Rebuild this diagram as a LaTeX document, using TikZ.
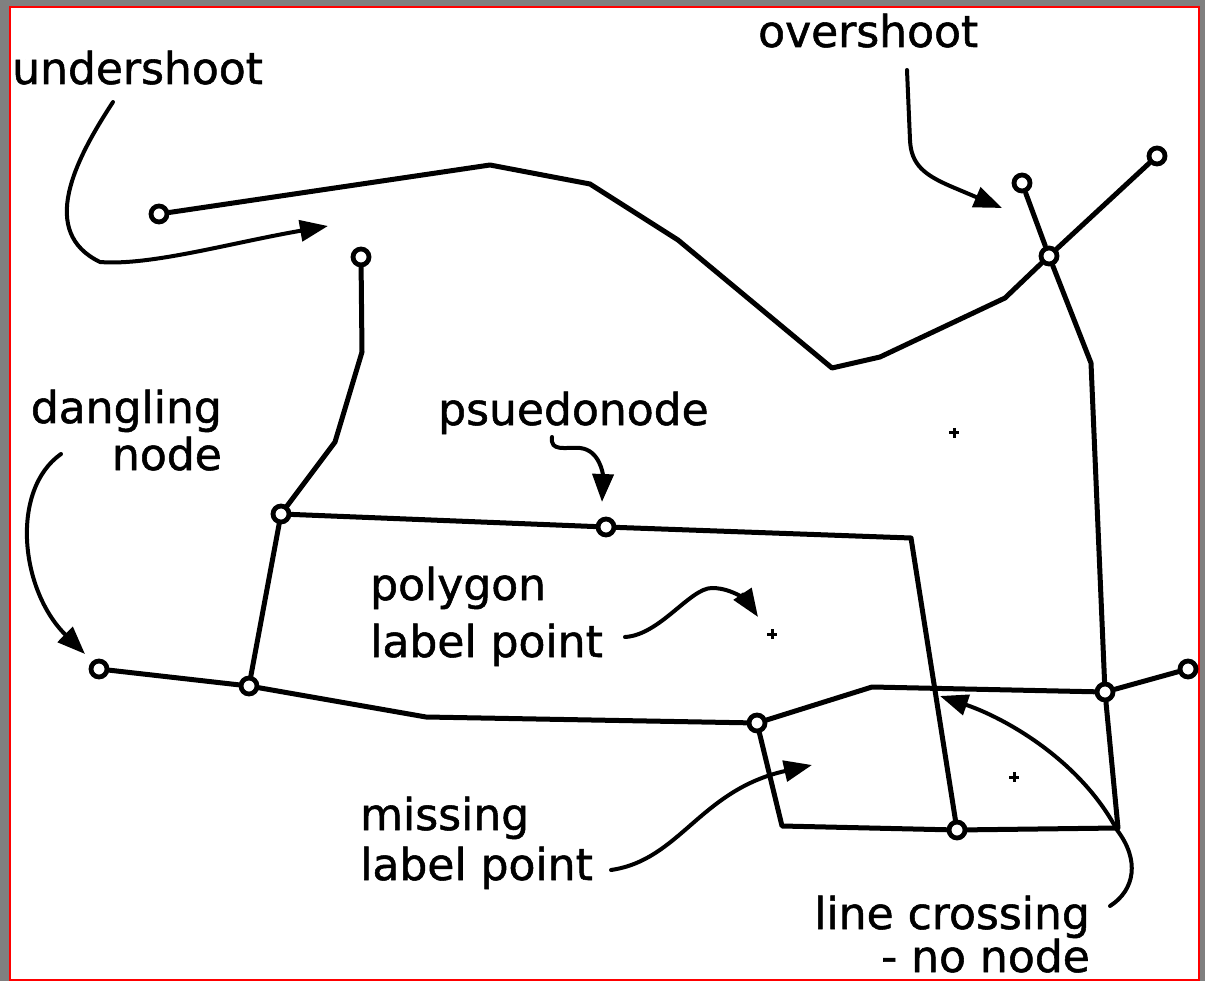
\documentclass[tikz,border=0pt]{standalone}
\usepackage{fontspec}
\setmainfont[FakeBold=1.2]{DejaVu Sans}
\usetikzlibrary{arrows.meta}
\definecolor{framegray}{RGB}{128,128,128}
\tikzset{
  vtx/.style={circle, draw, fill=white, line width=4.8pt, minimum size=16pt, inner sep=0pt},
  edge/.style={line width=5pt, line join=round, line cap=round},
  callout/.style={line width=4pt, line cap=round, -{Triangle[length=28pt,width=21pt]}},
  lbl/.style={font=\fontsize{44}{50}\selectfont, inner sep=0pt},
  lp/.style={line width=3pt}
}
\begin{document}
\begin{tikzpicture}[x=1pt,y=-1pt]
% canvas and frame
\fill[framegray] (0,0) rectangle (1205,981);
\useasboundingbox (0,0) rectangle (1205,981);
\filldraw[fill=white, draw=red, line width=2pt] (9.5,7.5) rectangle (1199,979.5);

% arc end points (vertices)
\node[vtx] (u0) at (159,214) {};
\node[vtx] (j1) at (1049,256) {};
\node[vtx] (o1) at (1022,183) {};
\node[vtx] (o2) at (1157,156) {};
\node[vtx] (j2) at (1105,692) {};
\node[vtx] (d3) at (1188,669) {};
\node[vtx] (j3) at (957,830) {};
\node[vtx] (j4) at (757,723) {};
\node[vtx] (p1) at (606,527) {};
\node[vtx] (j5) at (281,514) {};
\node[vtx] (d2) at (361,257) {};
\node[vtx] (j6) at (249,686) {};
\node[vtx] (d1) at (99,669) {};

% arcs
\draw[edge] (u0) -- (490,165) -- (590,184) -- (678,240) -- (832,368) -- (880,357) -- (1005,298) -- (j1);
\draw[edge] (j1) -- (o1);
\draw[edge] (j1) -- (o2);
\draw[edge] (j1) -- (1091,363) -- (j2);
\draw[edge] (j2) -- (d3);
\draw[edge] (j2) -- (1118,828) -- (j3);
\draw[edge] (j3) -- (782,826) -- (j4);
\draw[edge] (j4) -- (872,687) -- (j2);
\draw[edge] (j3) -- (911,538) -- (p1) -- (j5);
\draw[edge] (j5) -- (335,442) -- (362,352) -- (d2);
\draw[edge] (j5) -- (j6);
\draw[edge] (d1) -- (j6) -- (426,717) -- (j4);

% polygon label points
\foreach \px/\py in {954/433, 772/634, 1014/777}
  \draw[lp] (\px-5,\py) -- (\px+5,\py) (\px,\py-5) -- (\px,\py+5);

% labels
\node[lbl, anchor=base west] (tu) at (12,84) {undershoot};
\node[lbl, anchor=base west] (to) at (758,47) {overshoot};
\node[lbl, anchor=base east] (td1) at (222,423) {dangling};
\node[lbl, anchor=base east] (td2) at (222,470) {node};
\node[lbl, anchor=base west] (tp) at (438,425) {psuedonode};
\node[lbl, anchor=base west] (tl1) at (370,600) {polygon};
\node[lbl, anchor=base west] (tl2) at (370,657) {label point};
\node[lbl, anchor=base west] (tm1) at (360,830) {missing};
\node[lbl, anchor=base west] (tm2) at (360,880) {label point};
\node[lbl, anchor=base east] (tc1) at (1090,929) {line crossing};
\node[lbl, anchor=base east] (tc2) at (1090,972) {- no node};

% callout start and end points
\coordinate (a1s) at (113,102);  \coordinate (a1e) at (328,226);
\coordinate (a2s) at (907,70);   \coordinate (a2e) at (1002,208);
\coordinate (a3s) at (61,454);   \coordinate (a3e) at (85,654);
\coordinate (a4s) at (552,437);  \coordinate (a4e) at (602,502);
\coordinate (a5s) at (625,637);  \coordinate (a5e) at (758,617);
\coordinate (a6s) at (611,870);  \coordinate (a6e) at (812,765);
\coordinate (a7s) at (1110,906); \coordinate (a7e) at (940,696);

% callouts
\draw[callout] (a1s) .. controls (75,160) and (38,232) .. (100,262) .. controls (150,266) and (230,243) .. (a1e);
\draw[callout] (a2s) -- (910,140) .. controls (911,165) and (925,175) .. (950,186) -- (a2e);
\draw[callout] (a3s) .. controls (10,490) and (20,590) .. (a3e);
\draw[callout] (a4s) .. controls (550,452) and (565,447) .. (580,448) .. controls (600,450) and (603,475) .. (a4e);
\draw[callout] (a5s) .. controls (660,635) and (690,588) .. (712,588) .. controls (735,588) and (750,605) .. (a5e);
\draw[callout] (a6s) .. controls (680,860) and (700,790) .. (a6e);
\draw[callout] (a7s) .. controls (1135,890) and (1140,860) .. (1117,830) .. controls (1080,760) and (1005,718) .. (a7e);
\end{tikzpicture}
\end{document}
